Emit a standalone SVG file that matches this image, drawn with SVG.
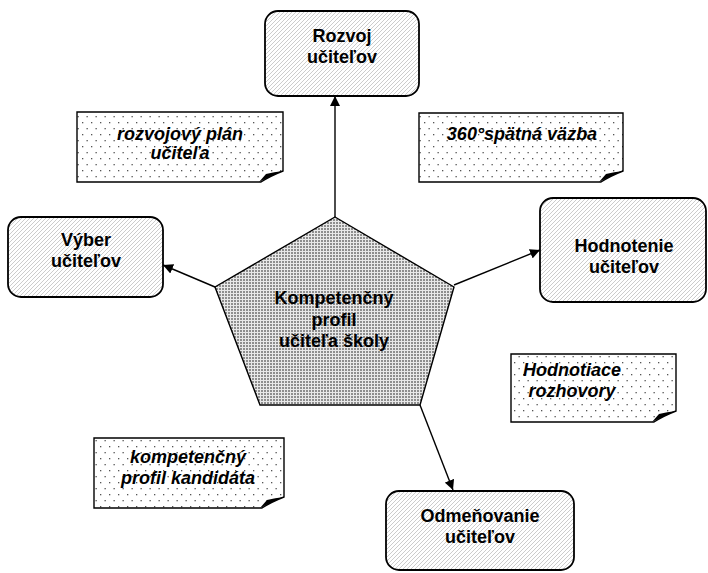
<svg xmlns="http://www.w3.org/2000/svg" width="708" height="573" viewBox="0 0 708 573">
<defs>
<pattern id="hatch" patternUnits="userSpaceOnUse" width="4" height="4">
<rect width="4" height="4" fill="#ffffff"/>
<path d="M-1,1 L1,-1 M0,4 L4,0 M3,5 L5,3" stroke="#c6c6c6" stroke-width="0.9"/>
</pattern>
<pattern id="dots" patternUnits="userSpaceOnUse" width="9" height="12">
<rect width="9" height="12" fill="#ffffff"/>
<rect x="1" y="2" width="1.3" height="1.3" fill="#555"/>
<rect x="5.5" y="8" width="1.3" height="1.3" fill="#555"/>
</pattern>
<pattern id="fine" patternUnits="userSpaceOnUse" width="3" height="3">
<rect width="3" height="3" fill="#e8e8e8"/>
<rect x="0" y="0" width="2" height="2" fill="#8e8e8e"/>
</pattern>
<marker id="arr" viewBox="0 0 10 10" refX="10" refY="5" markerWidth="10" markerHeight="10" markerUnits="userSpaceOnUse" orient="auto">
<path d="M0,0 L10,5 L0,10 Z" fill="#000"/>
</marker>
</defs>
<style>
.box{fill:url(#hatch);stroke:#000;stroke-width:1.8}
.note{fill:url(#dots);stroke:#000;stroke-width:1.4}
.fold{fill:#000}
.t{font-family:"Liberation Sans",Arial,sans-serif;font-weight:bold;font-size:18px;text-anchor:middle;fill:#000}
.n{font-family:"Liberation Sans",Arial,sans-serif;font-weight:bold;font-style:italic;font-size:18px;text-anchor:middle;fill:#000}
.c{stroke:#000;stroke-width:1.4;fill:none;marker-end:url(#arr)}
</style>

<g id="connectors">
<line class="c" x1="335" y1="217" x2="335" y2="96"/>
<line class="c" x1="215" y1="287" x2="163" y2="265"/>
<line class="c" x1="454" y1="285" x2="540" y2="250"/>
<line class="c" x1="420" y1="405" x2="453" y2="490"/>
</g>

<g id="center">
<polygon points="335,217 454,287 420,405 260,405 215,287" fill="url(#fine)" stroke="#000" stroke-width="1.4"/>
<text class="t" x="334" y="304">Kompetenčný</text>
<text class="t" x="334" y="326">profil</text>
<text class="t" x="334" y="347">učiteľa školy</text>
</g>

<g id="rozvoj">
<rect class="box" x="265" y="11" width="154" height="85" rx="13"/>
<text class="t" x="342" y="42">Rozvoj</text>
<text class="t" x="342" y="63">učiteľov</text>
</g>

<g id="vyber">
<rect class="box" x="8" y="217" width="155" height="80" rx="13"/>
<text class="t" x="86" y="246">Výber</text>
<text class="t" x="86" y="267">učiteľov</text>
</g>

<g id="hodnotenie">
<rect class="box" x="540" y="198" width="166" height="104" rx="13"/>
<text class="t" x="624" y="252">Hodnotenie</text>
<text class="t" x="624" y="273">učiteľov</text>
</g>

<g id="odmenovanie">
<rect class="box" x="386" y="491" width="188" height="79" rx="13"/>
<text class="t" x="480" y="522">Odmeňovanie</text>
<text class="t" x="480" y="543">učiteľov</text>
</g>

<g id="note-rozvojovy">
<path class="note" d="M77,112 L283,112 L283,171 Q270,176 261,182 L77,182 Z"/>
<path class="fold" d="M259,182 L266,174 Q274,172 283,171 Q271,176 259,182 Z"/>
<text class="n" x="180" y="140">rozvojový plán</text>
<text class="n" x="180" y="159">učiteľa</text>
</g>

<g id="note-360">
<path class="note" d="M419,113 L623,113 L623,171 Q610,176 601,182 L419,182 Z"/>
<path class="fold" d="M599,182 L606,174 Q614,172 623,171 Q611,176 599,182 Z"/>
<text class="n" x="522" y="140">360°spätná väzba</text>
</g>

<g id="note-hodnotiace">
<path class="note" d="M511,354 L676,354 L676,411 Q663,416 654,422 L511,422 Z"/>
<path class="fold" d="M652,422 L659,414 Q667,412 676,411 Q664,416 652,422 Z"/>
<text class="n" x="572" y="376">Hodnotiace</text>
<text class="n" x="572" y="397">rozhovory</text>
</g>

<g id="note-kompetencny">
<path class="note" d="M94,438 L284,438 L284,497 Q271,502 262,508 L94,508 Z"/>
<path class="fold" d="M260,508 L267,500 Q275,498 284,497 Q272,502 260,508 Z"/>
<text class="n" x="188" y="463">kompetenčný</text>
<text class="n" x="188" y="484">profil kandidáta</text>
</g>
</svg>
